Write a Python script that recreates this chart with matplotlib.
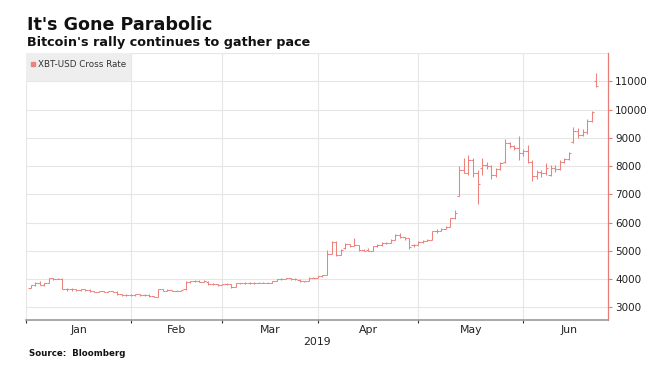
import matplotlib
matplotlib.use("Agg")
import matplotlib.pyplot as plt
from matplotlib.lines import Line2D
from matplotlib.patches import Rectangle
import numpy as np
import pandas as pd

# daily bars, weekdays only, plus the weekend bar of Jun 22
dates = list(pd.bdate_range("2019-01-01", "2019-06-21")) + [pd.Timestamp("2019-06-22")]

opens = [
    3700, 3780, 3870, 3800, 3860, 4030, 4000, 4010, 3660, 3640,
    3650, 3610, 3640, 3620, 3570, 3560, 3580, 3560, 3570, 3560,
    3460, 3430, 3450,
    3440, 3460, 3440, 3450, 3400, 3380, 3640, 3600, 3610, 3590,
    3600, 3640, 3900, 3920, 3940, 3910, 3900, 3820, 3830, 3790,
    3820, 3830, 3730, 3860, 3860, 3870, 3860, 3870, 3880, 3870,
    3880, 3950, 4000, 4010, 4030, 4000, 3980, 3920, 3930, 4060,
    4060,
    4100, 4150, 4900, 5330, 4860, 5100, 5240, 5180, 5200, 5040,
    5050, 5010, 5160, 5200, 5280, 5290, 5400, 5570, 5490, 5450,
    5200, 5220,
    5300, 5360, 5400, 5700, 5700, 5780, 5850, 6150, 6950, 7880,
    7770, 8200, 7750, 7950, 8050, 8000, 7700, 7900, 8150, 8800,
    8720, 8650, 8450,
    8550, 8150, 7650, 7780, 7750, 7700, 7950, 7900, 8150, 8250,
    8850, 9250, 9100, 9200, 9600, 11000,
]
highs = [
    3800, 3890, 3940, 3880, 4060, 4060, 4050, 4030, 3690, 3680,
    3670, 3660, 3670, 3650, 3600, 3600, 3600, 3590, 3590, 3570,
    3480, 3470, 3470,
    3480, 3470, 3470, 3460, 3420, 3660, 3660, 3640, 3630, 3620,
    3630, 3930, 3950, 3970, 3960, 3960, 3920, 3860, 3840, 3840,
    3850, 3840, 3880, 3880, 3890, 3900, 3890, 3900, 3890, 3900,
    3940, 4020, 4030, 4060, 4050, 4040, 3990, 3950, 4080, 4080,
    4110,
    4160, 5050, 5360, 5340, 5060, 5280, 5260, 5460, 5220, 5080,
    5100, 5180, 5240, 5300, 5310, 5420, 5600, 5620, 5510, 5470,
    5260, 5340,
    5380, 5420, 5720, 5760, 5820, 5880, 6180, 6450, 8000, 8300,
    8400, 8300, 7850, 8300, 8150, 8050, 7950, 8150, 8950, 8850,
    8760, 9080, 8600,
    8750, 8200, 7850, 7880, 8100, 8050, 8050, 8200, 8300, 8500,
    9380, 9350, 9300, 9650, 9950, 11300,
]
lows = [
    3680, 3760, 3800, 3760, 3850, 3980, 3990, 3640, 3600, 3600,
    3590, 3600, 3590, 3550, 3530, 3530, 3540, 3530, 3540, 3430,
    3400, 3420, 3420,
    3420, 3420, 3420, 3380, 3360, 3370, 3580, 3580, 3570, 3570,
    3580, 3620, 3880, 3900, 3890, 3890, 3780, 3790, 3760, 3780,
    3800, 3700, 3720, 3840, 3840, 3830, 3840, 3850, 3850, 3850,
    3870, 3940, 3970, 3990, 3980, 3980, 3900, 3900, 3920, 4030,
    4050,
    4090, 4140, 4880, 4810, 4840, 5080, 5150, 5170, 5000, 4980,
    4980, 5000, 5140, 5180, 5250, 5270, 5380, 5460, 5400, 5080,
    5150, 5200,
    5280, 5340, 5390, 5650, 5690, 5760, 5830, 6130, 6930, 7750,
    7700, 7600, 6650, 7700, 7900, 7550, 7600, 7850, 8100, 8650,
    8580, 8200, 8350,
    8100, 7470, 7550, 7600, 7700, 7650, 7800, 7850, 8100, 8200,
    8830, 9000, 9050, 9150, 9550, 10800,
]
closes = [
    3780, 3870, 3800, 3860, 4030, 4000, 4010, 3660, 3640, 3650,
    3610, 3640, 3620, 3570, 3560, 3580, 3560, 3570, 3560, 3460,
    3430, 3450, 3440,
    3460, 3440, 3450, 3400, 3380, 3640, 3600, 3610, 3590, 3600,
    3610, 3900, 3920, 3940, 3910, 3930, 3820, 3830, 3790, 3820,
    3830, 3730, 3860, 3860, 3870, 3860, 3870, 3880, 3870, 3880,
    3920, 4000, 4010, 4030, 4000, 4010, 3920, 3930, 4060, 4060,
    4100,
    4150, 4900, 5330, 4860, 5030, 5240, 5180, 5200, 5040, 5000,
    5010, 5160, 5200, 5280, 5290, 5400, 5570, 5490, 5450, 5130,
    5220, 5300,
    5360, 5400, 5690, 5700, 5780, 5850, 6150, 6350, 7880, 7770,
    8200, 7750, 7350, 8050, 8000, 7700, 7900, 8100, 8800, 8720,
    8650, 8450, 8550,
    8150, 7650, 7780, 7750, 7950, 7950, 7900, 8150, 8250, 8450,
    9250, 9100, 9200, 9600, 9900, 10850,
]

y_ticks = [3000, 4000, 5000, 6000, 7000, 8000, 9000, 10000, 11000]
month_names = ["Jan", "Feb", "Mar", "Apr", "May", "Jun"]

BAR_COLOR = "#ec827c"
AXIS_RED = "#ea7a74"
GRID = "#e6e6e6"

x = np.arange(len(closes))
months = np.array([d.month for d in dates])
# gridline sits on the last bar of the previous month
bounds = [-1] + [int(np.where(months == m)[0][-1]) for m in range(1, 6)]

fig = plt.figure(figsize=(6.66, 3.72), dpi=100)
ax = fig.add_axes([0.039, 0.14, 0.874, 0.7175])

xmin, xmax = -0.99, 126.6
ax.set_xlim(xmin, xmax)
ax.set_ylim(2560, 12000)

# grid
for b in bounds:
    ax.axvline(b, color=GRID, lw=0.8, zorder=0)
for t in y_ticks + [12000]:
    ax.axhline(t, color=GRID, lw=0.8, zorder=0)

# shaded legend cell
ax.add_patch(Rectangle((xmin, y_ticks[-1]), bounds[1] - xmin, 12000 - y_ticks[-1],
                       facecolor="#eeeeee", edgecolor="none", zorder=0.5))

# OHLC bars
ax.vlines(x, lows, highs, color=BAR_COLOR, lw=0.75, zorder=2)
ax.hlines(opens, x - 0.5, x, color=BAR_COLOR, lw=0.75, zorder=2)
ax.hlines(closes, x, x + 0.5, color=BAR_COLOR, lw=0.75, zorder=2)

ax.legend(handles=[Line2D([], [], marker="s", color=BAR_COLOR, linestyle="none", markersize=3.5)],
          labels=["XBT-USD Cross Rate"], loc="center left", bbox_to_anchor=(0.004, 0.957),
          frameon=False, fontsize=6.3, borderaxespad=0, borderpad=0,
          handletextpad=0.1, handlelength=1.0, labelcolor="#333333")

# right axis
ax.yaxis.tick_right()
ax.set_yticks(y_ticks)
ax.set_yticklabels([str(t) for t in y_ticks])
ax.tick_params(axis="y", colors=AXIS_RED, labelcolor="#222222", labelsize=7.5,
               length=3, width=0.8, pad=2)
for side in ["left", "top"]:
    ax.spines[side].set_visible(False)
ax.spines["right"].set_color(AXIS_RED)
ax.spines["right"].set_linewidth(0.9)
ax.spines["bottom"].set_color("#9a9a9a")
ax.spines["bottom"].set_linewidth(1.2)

# month ticks at boundaries, labels centred within each month
ax.set_xticks(bounds)
ax.set_xticklabels([])
ax.tick_params(axis="x", colors="#333333", length=2.5, width=0.8, direction="out")
edges = bounds + [xmax + 1.4]
for i, name in enumerate(month_names):
    mid = (edges[i] + edges[i + 1]) / 2
    ax.text(mid, -0.018, name, transform=ax.get_xaxis_transform(), ha="center", va="top",
            fontsize=7.8, color="#222222")
ax.text(0.5, -0.065, "2019", transform=ax.transAxes, ha="center", va="top",
        fontsize=7.8, color="#222222")

fig.text(0.041, 0.919, "It's Gone Parabolic", fontsize=12.6, fontweight="bold",
         color="#111111", va="baseline")
fig.text(0.041, 0.877, "Bitcoin's rally continues to gather pace", fontsize=9.2,
         fontweight="bold", color="#111111", va="baseline")
fig.text(0.043, 0.042, "Source:  Bloomberg", fontsize=6.2, fontweight="bold",
         color="#111111", va="baseline")

fig.savefig("out.png", dpi=100)
